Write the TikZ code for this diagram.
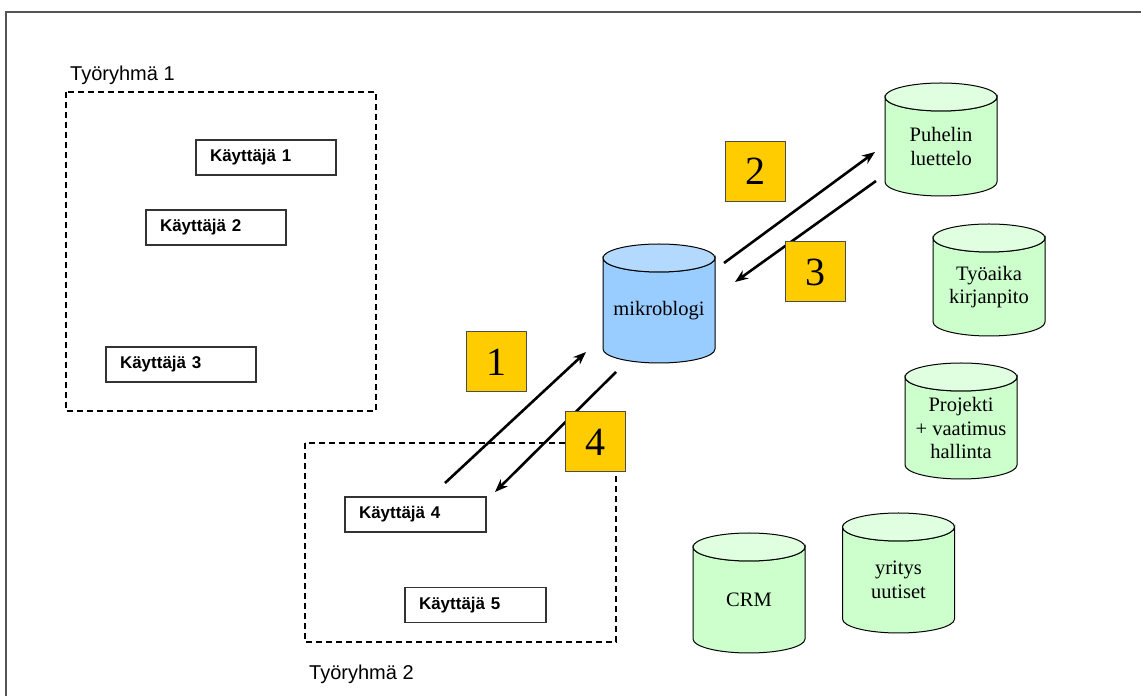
\documentclass[tikz,border=0pt]{standalone}
\usepackage{fontspec}
\setmainfont{Liberation Serif}
\setsansfont{Liberation Sans}
\usetikzlibrary{arrows.meta}

\definecolor{kehys}{RGB}{85,85,85}
\definecolor{keltainen}{RGB}{255,204,0}
\definecolor{vihrea}{RGB}{204,255,204}
\definecolor{vihreakansi}{RGB}{224,255,224}
\definecolor{sininen}{RGB}{153,204,255}
\definecolor{sininenkansi}{RGB}{179,217,255}

\tikzset{
    kayttaja/.style={draw=black!80, line width=1.2pt, fill=white,
        font=\sffamily\bfseries\fontsize{17}{19}\selectfont,
        minimum height=35pt, inner xsep=14pt, inner ysep=0pt, align=left},
    ryhma/.style={dash pattern=on 6pt off 4pt, line width=2pt},
    ryhmateksti/.style={font=\sffamily\fontsize{20}{22}\selectfont, anchor=west, inner sep=0pt},
    vaihe/.style={draw=black!70, line width=1pt, fill=keltainen, minimum size=60pt,
        inner sep=0pt, font=\fontsize{40}{40}\selectfont},
    nuoli/.style={-{Stealth[length=13pt,width=10pt]}, line width=2.6pt},
    kanta/.style={draw=black, line width=1pt},
    kantateksti/.style={align=center, font=\fontsize{20.5}{23.5}\selectfont, inner sep=0pt}
}

\begin{document}
\begin{tikzpicture}[x=1pt,y=1pt]
        \useasboundingbox (0,0) rectangle (1141,696);
        % frame
            \draw[kehys, line width=2pt] (6,0) -- (6,684) -- (1141,684);
        % work groups
            \draw[ryhma] (66,604) rectangle (376,285);
            \draw[ryhma] (305,253) rectangle (616,54);
            \node[ryhmateksti] (ryhma1) at (70,621) {Työryhmä 1};
            \node[ryhmateksti] (ryhma2) at (309,22) {Työryhmä 2};
        % users
            \foreach \n/\x/\y/\w in {1/266/538.5/112,2/216/468.5/112,3/181/331.5/122,4/415.5/181.5/113,5/475.5/91/113}{
                \node[kayttaja, text width=\w pt] (kayttaja\n) at (\x,\y) {Käyttäjä \n};
            }
        % databases
            \foreach \nimi/\cx/\yt/\ya/\runko/\kansi/\teksti in {
                mikroblogi/659/452/333/sininen/sininenkansi/{mikroblogi},
                puhelin/941/613/500/vihrea/vihreakansi/{Puhelin\\luettelo},
                tyoaika/989/472/360/vihrea/vihreakansi/{Työaika\\kirjanpito},
                projekti/961/333/217/vihrea/vihreakansi/{Projekti\\+ vaatimus\\hallinta},
                crm/749/163/43/vihrea/vihreakansi/{CRM},
                uutiset/898.5/183/63/vihrea/vihreakansi/{yritys\\uutiset}}{
                \filldraw[kanta, fill=\runko] (\cx-56,\yt-14) -- (\cx-56,\ya+14)
                    arc[start angle=180, end angle=360, x radius=56pt, y radius=14pt]
                    -- (\cx+56,\yt-14)
                    arc[start angle=0, end angle=-180, x radius=56pt, y radius=14pt] -- cycle;
                \filldraw[kanta, fill=\kansi] (\cx,\yt-14) ellipse[x radius=56pt, y radius=14pt];
                \node[kantateksti] (\nimi) at (\cx,{(\yt-14+\ya)/2}) {\teksti};
            }
        % messages
            \coordinate (lahto1) at (445,213);
            \coordinate (tulo1) at (586,344);
            \coordinate (lahto2) at (724,433);
            \coordinate (tulo2) at (875,544);
            \coordinate (lahto3) at (876,515);
            \coordinate (tulo3) at (735,414);
            \coordinate (lahto4) at (616,324);
            \coordinate (tulo4) at (495,204);
            \foreach \n in {1,2,3,4}{
                \draw[nuoli] (lahto\n) -- (tulo\n);
            }
        % steps
            \foreach \n/\x/\y in {1/496/334,2/755/524.5,3/815/424,4/595/254}{
                \node[vaihe] (vaihe\n) at (\x,\y) {\n};
            }
\end{tikzpicture}
\end{document}
